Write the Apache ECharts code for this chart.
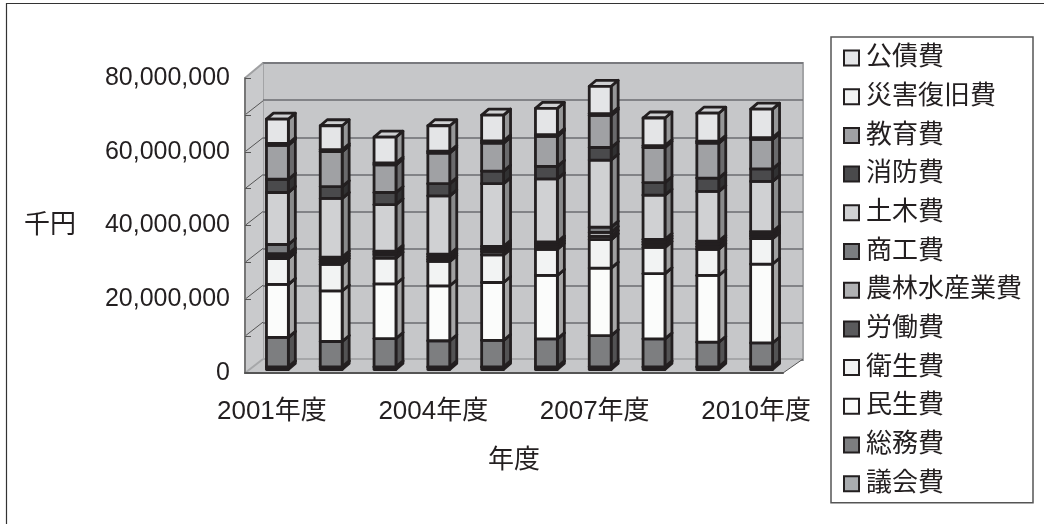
<!DOCTYPE html>
<html><head><meta charset="utf-8">
<style>html,body{margin:0;padding:0;background:#fff}#c{width:1044px;height:524px}</style>
<script src="https://cdn.jsdelivr.net/npm/echarts@6/dist/echarts.min.js"></script>
</head><body><div id="c"></div>
<script>
const categories = ['2001年度','2002年度','2003年度','2004年度','2005年度','2006年度','2007年度','2008年度','2009年度','2010年度'];
const gikai    = [700000,700000,700000,700000,700000,700000,700000,700000,700000,700000];
const somu     = [8000000,6900000,7700000,7100000,7200000,7600000,8500000,7600000,6700000,6500000];
const minsei   = [14400000,13700000,14800000,14900000,15700000,17200000,18300000,17700000,18100000,21400000];
const eisei    = [7000000,7200000,7000000,6600000,7500000,7100000,7700000,7100000,7100000,6900000];
const rodo     = [600000,700000,900000,600000,900000,700000,900000,800000,700000,700000];
const norin    = [700000,600000,500000,700000,700000,700000,1100000,700000,800000,600000];
const shoko    = [2500000,700000,500000,700000,700000,600000,1400000,700000,700000,600000];
const doboku   = [14100000,15900000,12600000,15800000,17000000,17100000,18200000,12000000,13500000,13600000];
const shobo    = [3600000,3200000,3300000,3300000,3400000,3400000,3400000,3400000,3600000,3400000];
const kyoiku   = [9200000,9500000,7500000,8300000,7600000,8100000,8700000,9500000,9500000,8000000];
const saigai   = [500000,500000,500000,500000,600000,500000,500000,500000,500000,500000];
const kosai    = [6600000,6500000,7000000,6900000,7000000,7100000,7400000,7500000,7600000,7700000];

const stacks = [
  ['議会費', gikai, '#a9acaf'], ['総務費', somu, '#7d7e80'], ['民生費', minsei, '#fbfcfb'],
  ['衛生費', eisei, '#f2f3f3'], ['労働費', rodo, '#5a5a5c'], ['農林水産業費', norin, '#b0b1b3'],
  ['商工費', shoko, '#7b7d80'], ['土木費', doboku, '#d0d1d3'], ['消防費', shobo, '#4a4a4c'],
  ['教育費', kyoiku, '#a0a1a4'], ['災害復旧費', saigai, '#f3f4f4'], ['公債費', kosai, '#e4e5e7']
];

const font = '"Liberation Sans","Noto Sans CJK JP",sans-serif';
const ink = '#231f20';
const wallTicks = [10000000,20000000,30000000,40000000,50000000,60000000,70000000];
const depthX = 18, depthY = 14;

function shade(hex, f) {
  const n = parseInt(hex.slice(1), 16);
  const c = s => Math.round(((n >> s) & 255) * f);
  return 'rgb(' + c(16) + ',' + c(8) + ',' + c(0) + ')';
}

function renderWalls(params, api) {
  const cs = params.coordSys;
  const l = cs.x, t = cs.y, r = cs.x + cs.width, b = cs.y + cs.height;
  const kids = [
    {type:'polygon', shape:{points:[[l,b],[l,t],[l+depthX,t-depthY-1],[l+depthX,b-depthY]]}, style:{fill:'#c9cacc'}},
    {type:'polygon', shape:{points:[[l,b],[r,b],[r+20,b-depthY],[l+depthX,b-depthY]]}, style:{fill:'#c6c7c9'}},
    {type:'line', shape:{x1:l,y1:b,x2:l+depthX,y2:b-depthY}, style:{stroke:'#a6a7a9',lineWidth:2}},
    {type:'line', shape:{x1:l+depthX,y1:b-depthY,x2:r+20,y2:b-depthY}, style:{stroke:'#a6a7a9',lineWidth:2}},
    {type:'line', shape:{x1:l,y1:t,x2:l+depthX,y2:t-depthY-1}, style:{stroke:'#9fa0a2',lineWidth:2}},
    {type:'line', shape:{x1:r,y1:b,x2:r+20,y2:b-depthY}, style:{stroke:'#555',lineWidth:1}}
  ];
  wallTicks.forEach(v => {
    const y = api.coord([0, v])[1];
    kids.push({type:'line', shape:{x1:l,y1:y,x2:l+depthX,y2:y-depthY}, style:{stroke:'#555',lineWidth:1}});
  });
  return {type:'group', children:kids};
}

function renderBar(color) {
  return function (params, api) {
    const lo = api.coord([api.value(0), api.value(1)]);
    const hi = api.coord([api.value(0), api.value(2)]);
    const w = api.size([1, 0])[0] * 0.407;
    const x0 = lo[0] - w / 2 + 5.5, x1 = x0 + w;
    const y0 = lo[1] - 3.5, y1 = hi[1] - 3.5;
    const dx = 7, dy = 6;
    const st = f => ({fill:f, stroke:ink, lineWidth:2.8, lineJoin:'round'});
    return {type:'group', children:[
      {type:'polygon', shape:{points:[[x1,y0],[x1,y1],[x1+dx,y1-dy],[x1+dx,y0-dy]]}, style:st(shade(color,0.66))},
      {type:'polygon', shape:{points:[[x0,y1],[x1,y1],[x1+dx,y1-dy],[x0+dx,y1-dy]]}, style:st('#cfd0d2')},
      {type:'rect', shape:{x:x0,y:y1,width:w,height:y0-y1}, style:st(color)}
    ]};
  };
}

let running = categories.map(() => 0);
const barSeries = stacks.map(([name, vals, color]) => {
  const data = vals.map((v, i) => {
    const row = [i, running[i], running[i] + v];
    running[i] += v;
    return row;
  });
  return {
    type:'custom', name, xAxisIndex:1, yAxisIndex:1, z:2,
    itemStyle:{color}, renderItem:renderBar(color),
    encode:{x:0, y:[1,2]}, data
  };
});

const chart = echarts.init(document.getElementById('c'), null, {renderer:'canvas'});
chart.setOption({
  animation:false,
  backgroundColor:'#fff',
  textStyle:{fontFamily:font},
  tooltip:{show:false},
  graphic:[{type:'polyline', silent:true, shape:{points:[[6.5,524],[6.5,3.5],[1044,3.5]]}, style:{fill:'none', stroke:'#333', lineWidth:1.2}}],
  legend:{
    orient:'vertical', left:831, top:37, padding:[8,11,6,12],
    borderColor:'#555', borderWidth:1.5, backgroundColor:'#fff',
    icon:'rect', itemWidth:15, itemHeight:15, itemGap:12.7,
    itemStyle:{borderColor:ink, borderWidth:2},
    textStyle:{fontFamily:font, fontSize:26, color:'#231f20', lineHeight:26, padding:[0,0,0,2]},
    selectedMode:false,
    data:stacks.map(s => s[0]).reverse()
  },
  grid:[
    {show:true, left:263, right:241, top:63, bottom:164, backgroundColor:'#c6c7c9', borderColor:'#a3a4a6', borderWidth:2, z:0},
    {left:245, right:261, top:78, bottom:151, z:3}
  ],
  xAxis:[
    {gridIndex:0, type:'category', data:categories, show:false},
    {gridIndex:1, type:'category', data:categories, z:3,
      name:'年度', nameLocation:'middle', nameGap:75,
      nameTextStyle:{fontFamily:font, fontSize:26, color:'#231f20'},
      axisLine:{lineStyle:{color:'#555', width:2}},
      axisTick:{inside:true, length:5, lineStyle:{color:'#555', width:1}},
      axisLabel:{interval:2, margin:26, fontFamily:font, fontSize:26, color:'#231f20', hideOverlap:false}
    }
  ],
  yAxis:[
    {gridIndex:0, type:'value', min:0, max:80000000, interval:10000000,
      axisLine:{show:false}, axisTick:{show:false}, axisLabel:{show:false},
      splitLine:{show:true, lineStyle:{color:'#6b6d70', width:1.5}}},
    {gridIndex:1, type:'value', min:0, max:80000000, interval:20000000, z:3,
      name:'千円', nameLocation:'middle', nameRotate:0, nameGap:195,
      nameTextStyle:{fontFamily:font, fontSize:26, color:'#231f20', align:'center', verticalAlign:'middle'},
      axisLine:{show:true, lineStyle:{color:'#777', width:2}},
      axisTick:{show:true, inside:true, length:6, lineStyle:{color:'#555', width:1}},
      minorTick:{show:true, splitNumber:2, length:6, lineStyle:{color:'#555', width:1}},
      axisLabel:{margin:15, fontFamily:font, fontSize:25, color:'#231f20',
        formatter:v => v.toLocaleString('en-US')},
      splitLine:{show:false}}
  ],
  series:[
    {type:'custom', name:'walls', xAxisIndex:1, yAxisIndex:1, z:1, silent:true,
      renderItem:renderWalls, encode:{x:0, y:1}, data:[[0,0]]}
  ].concat(barSeries)
});
</script></body></html>
